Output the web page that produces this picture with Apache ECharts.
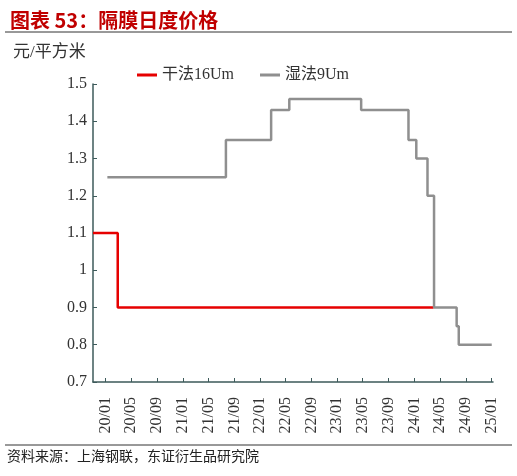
<!DOCTYPE html>
<html lang="zh">
<head>
    <meta charset="UTF-8">
    <title>隔膜日度价格</title>
    <script src="https://cdn.jsdelivr.net/npm/echarts@6/dist/echarts.min.js"></script>
    <style>
        html, body { margin: 0; padding: 0; background: #fff; }
    </style>
</head>
<body>

<div id="main" style="width: 517px;height:476px;"></div>
<script type="text/javascript">

    // 干法16Um：价格变动日期与新价格
    var dryDates = ['2019-11-02', '2020-02-27', '2024-04-01'];
    var dryPrices = [1.1, 0.9, 0.9];

    // 湿法9Um
    var wetDates = ['2020-01-09', '2021-07-23', '2022-02-22', '2022-05-19', '2023-04-24',
        '2023-12-04', '2024-01-10', '2024-03-03', '2024-04-03', '2024-07-19', '2024-07-29', '2025-01-01'];
    var wetPrices = [1.25, 1.35, 1.43, 1.46, 1.43, 1.35, 1.30, 1.20, 0.90, 0.85, 0.80, 0.80];

    // x 轴刻度（每4个月）
    var tickMonths = ['2020-01', '2020-05', '2020-09', '2021-01', '2021-05', '2021-09', '2022-01', '2022-05',
        '2022-09', '2023-01', '2023-05', '2023-09', '2024-01', '2024-05', '2024-09', '2025-01'];

    function ts(s) {
        var p = s.split('-');
        return Date.UTC(+p[0], +p[1] - 1, p[2] ? +p[2] : 1);
    }
    function pairs(dates, vals) {
        return dates.map(function (d, i) { return [ts(d), vals[i]]; });
    }
    var tickVals = tickMonths.map(ts);

    var serif = "'Liberation Serif', 'Noto Sans CJK SC', serif";
    var axisColor = '#3d5a5a';

    var option = {
        animation: false,
        grid: { left: 93, right: 24, top: 84, bottom: 94 },
        title: {
            text: '图表 53：隔膜日度价格',
            left: 5, top: 5,
            textStyle: { color: '#c00000', fontSize: 20, fontWeight: 'bold', fontFamily: "'Noto Sans CJK SC', sans-serif" }
        },
        legend: {
            left: 132, top: 62,
            icon: 'rect', itemWidth: 20, itemHeight: 3, itemGap: 26, itemStyle: { borderWidth: 0 },
            textStyle: { fontSize: 16, color: '#333', fontFamily: serif },
            data: ['干法16Um', '湿法9Um']
        },
        graphic: [
            { type: 'line', shape: { x1: 5, y1: 32, x2: 512, y2: 32 }, style: { stroke: '#333', lineWidth: 1 } },
            { type: 'line', shape: { x1: 5, y1: 445, x2: 512, y2: 445 }, style: { stroke: '#333', lineWidth: 1 } },
            { type: 'text', left: 7, top: 449, style: { text: '资料来源：上海钢联，东证衍生品研究院', fill: '#222', font: "14px 'Noto Sans CJK SC'" } },
            { type: 'text', left: 13, top: 44, style: { text: '元/平方米', fill: '#333', font: "17px 'Liberation Serif', 'Noto Sans CJK SC'" } }
        ],
        xAxis: {
            type: 'value',
            min: ts('2019-11-02'),
            max: ts('2025-01-07'),
            splitLine: { show: false },
            axisLine: { lineStyle: { color: axisColor, width: 1.5 } },
            axisTick: { show: true, inside: true, length: 4, customValues: tickVals, lineStyle: { color: axisColor } },
            axisLabel: {
                customValues: tickVals,
                rotate: 90,
                margin: 15,
                fontSize: 16,
                color: '#333',
                fontFamily: serif,
                formatter: function (v) {
                    var d = new Date(v);
                    var m = d.getUTCMonth() + 1;
                    return String(d.getUTCFullYear()).slice(2) + '/' + (m < 10 ? '0' + m : m);
                }
            }
        },
        yAxis: {
            type: 'value',
            min: 0.7, max: 1.5, interval: 0.1,
            splitLine: { show: false },
            axisLine: { show: true, lineStyle: { color: axisColor, width: 1.5 } },
            axisTick: { show: true, inside: true, length: 4, lineStyle: { color: axisColor } },
            axisLabel: {
                margin: 6, fontSize: 16, color: '#333', fontFamily: serif,
                formatter: function (v) { return String(Math.round(v * 10) / 10); }
            }
        },
        series: [{
            name: '干法16Um',
            type: 'line',
            step: 'end',
            showSymbol: false,
            color: '#e60000',
            lineStyle: { width: 2.5 },
            data: pairs(dryDates, dryPrices)
        }, {
            name: '湿法9Um',
            type: 'line',
            step: 'end',
            showSymbol: false,
            color: '#8f8f8f',
            lineStyle: { width: 2.5 },
            data: pairs(wetDates, wetPrices)
        }]
    };

    var myChart = echarts.init(document.getElementById('main'));
    myChart.setOption(option);

</script>

</body>
</html>
